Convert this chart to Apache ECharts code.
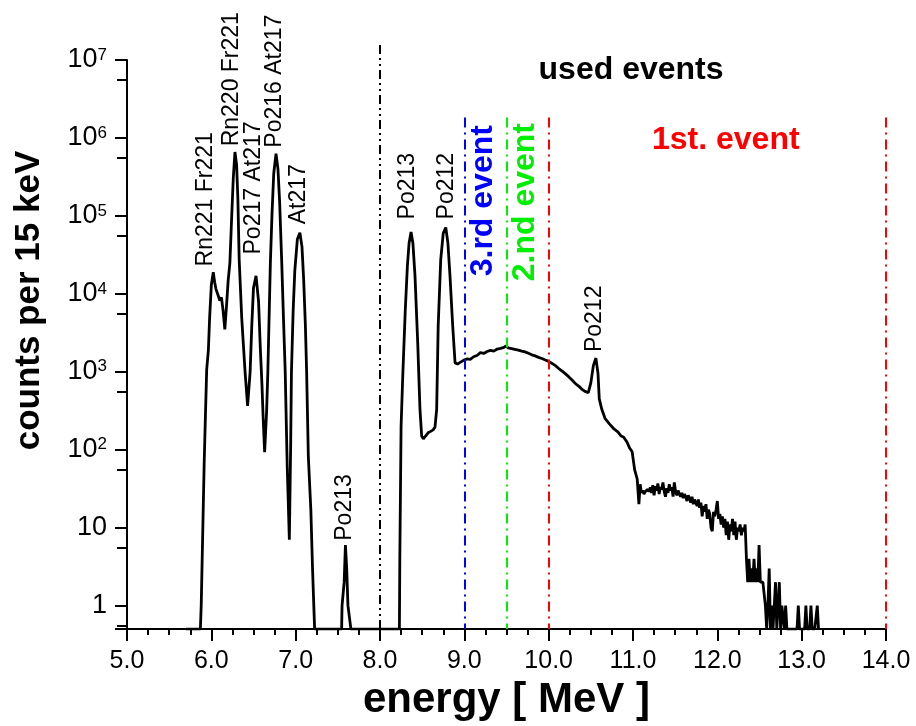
<!DOCTYPE html>
<html>
<head>
<meta charset="utf-8">
<script src="https://cdn.jsdelivr.net/npm/echarts@6/dist/echarts.min.js"></script>
<style>
  html, body { margin: 0; padding: 0; background: #fff; }
  #chart { width: 916px; height: 726px; }
</style>
</head>
<body>
<div id="chart"></div>
<script>
// alpha peaks (Rn221 ... At217, Po213, Po213/Po212), energy in MeV, counts per 15 keV
const peakEnergy = [
  5.70, 5.87, 5.88, 5.895, 5.90, 5.915, 5.93, 5.945, 5.965, 5.98, 6.00, 6.023, 6.04, 6.055, 6.083, 6.10, 6.12, 6.14, 6.16,
  6.18, 6.20, 6.22, 6.24, 6.26, 6.28, 6.30, 6.315, 6.33, 6.36, 6.40, 6.43,
  6.46, 6.48, 6.50, 6.53, 6.56, 6.58, 6.60, 6.615, 6.632,
  6.655, 6.67, 6.685, 6.70, 6.72, 6.74, 6.767, 6.79, 6.81, 6.835, 6.855, 6.876, 6.90, 6.925,
  6.94, 6.95, 6.97, 6.99, 7.02, 7.05, 7.075, 7.095, 7.115, 7.13, 7.15, 7.18, 7.20, 7.215, 7.225,
  7.545, 7.55, 7.565, 7.575, 7.59, 7.605, 7.62, 7.64, 7.655,
  8.23, 8.235, 8.25, 8.27, 8.30, 8.325, 8.345, 8.368, 8.39, 8.415, 8.447, 8.474, 8.494, 8.514, 8.54, 8.57, 8.60, 8.63, 8.652,
  8.672, 8.69, 8.72, 8.75, 8.78, 8.805, 8.83, 8.862, 8.89
];
const peakCounts = [
  0, 0, 1, 1, 11, 66, 275, 1070, 1900, 5000, 13000, 19000, 14000, 11500, 9400, 8200, 9000, 6000, 3500,
  7000, 15000, 25000, 90000, 300000, 660000, 450000, 160000, 28000, 5000, 1000, 365,
  1000, 4000, 12000, 17000, 8000, 2100, 700, 250, 93,
  300, 1000, 5000, 25000, 110000, 350000, 630000, 400000, 150000, 25000, 5000, 1000, 60, 7,
  100, 1000, 6000, 20000, 50000, 61000, 40000, 15000, 4000, 1000, 83, 17, 3, 1, 0,
  0, 1, 1, 2, 6, 3, 1, 1, 0,
  0, 4, 200, 890, 6300, 23000, 45000, 62000, 45000, 17000, 2400, 330, 150, 138, 150, 165, 172, 180, 195,
  330, 3900, 27500, 60000, 71000, 45000, 17000, 3900, 1300
];

// continuum of the used events and the Po212 line at 10.56 MeV
const contEnergy = [
  8.92, 8.95, 8.99, 9.03, 9.07, 9.11, 9.15, 9.19, 9.23, 9.27, 9.31, 9.35, 9.39, 9.43, 9.47, 9.494,
  9.52, 9.56, 9.60, 9.64, 9.68, 9.72, 9.76, 9.80, 9.84, 9.88, 9.92, 9.96, 10.00, 10.04, 10.08, 10.12,
  10.16, 10.20, 10.24, 10.28, 10.32, 10.36, 10.40, 10.43, 10.47, 10.50, 10.53, 10.56, 10.585, 10.60,
  10.63, 10.67, 10.72, 10.77, 10.82, 10.86, 10.89, 10.93, 10.96, 10.99, 11.02, 11.05
];
const contCounts = [
  1260, 1320, 1400, 1460, 1440, 1560, 1620, 1760, 1720, 1820, 1880, 1840, 1960, 2000, 2060, 2150,
  2020, 1980, 1940, 1900, 1840, 1800, 1730, 1650, 1600, 1530, 1480, 1420, 1360, 1280, 1200, 1100,
  1020, 940, 860, 780, 700, 650, 590, 560, 540, 720, 1200, 1500, 950, 450,
  330, 250, 215, 187, 170, 150, 145, 125, 105, 94, 55, 42
];

// high energy tail, one value per 15 keV bin starting at 11.07 MeV
const tailStart = 11.07;
const binWidth = 0.015;
const tailCounts = [
  20, 36, 28, 30, 27, 29, 28, 31, 29, 33, 28, 35, 26, 34, 30, 37, 27, 33, 31, 38,
  29, 25, 32, 28, 36, 30, 33, 25, 38, 29, 26, 30, 27, 25, 28, 24, 27, 25, 22, 26,
  24, 21, 25, 20, 23, 22, 19, 23, 18, 21, 14, 19, 16, 20, 13, 17, 15, 10, 9, 16,
  14, 17, 22, 13, 15, 11, 14, 10, 13, 8, 12, 7, 11, 9, 13, 8, 12, 7, 10, 9,
  11, 8, 10, 9, 11, 4, 2, 4, 2, 3, 2, 4, 2, 3, 2, 6, 2, 2, 2, 2,
  1, 0, 1, 3, 0, 1, 0, 1, 2, 0, 1, 2, 0, 1, 1, 0, 1, 0, 0, 0,
  0, 0, 0, 0, 0, 0, 1, 0, 0, 0, 0, 0, 1, 0, 0, 0, 1, 0, 0, 0,
  0, 1, 0
];

// vertical event boundaries (the 8 MeV cut reaches a little above the frame)
const cutEnergy = 8.0;
const cutTop = 1.56e7;
const markerEnergy = [9.0, 9.5, 10.0, 14.0];
const markerTop = [1.83e6, 1.83e6, 1.83e6, 1.83e6];
const markerColor = ['#0000ff', '#00ee00', '#ff0000', '#ff0000'];

// rotated peak / event labels (anchor = lower end of the text)
const peakLabelText = ['Rn221 Fr221', 'Rn220 Fr221', 'Po217 At217', 'Po216 At217', 'At217',
  'Po213', 'Po213', 'Po212', 'Po212'];
const peakLabelEnergy = [5.937, 6.245, 6.506, 6.755, 7.04, 7.585, 8.332, 8.795, 10.55];
const peakLabelCount = [2.25e4, 7.8e5, 3.2e4, 7.5e5, 7.8e4, 6.8, 9.0e4, 9.0e4, 1.79e3];

const eventLabelText = ['3.rd event', '2.nd event'];
const eventLabelEnergy = [9.221, 9.72];
const eventLabelCount = [1.68e4, 1.45e4];
const eventLabelColor = ['#0000ff', '#00ee00'];

const titleText = ['used events', '1st. event'];
const titleEnergy = [10.977, 12.10];
const titleCount = [7.5e6, 9.5e5];
const titleColor = ['#000000', '#ff0000'];

const X_MIN = 5, X_MAX = 14;
const Y_MIN = 0.5, Y_MAX = 1e7;
const FONT = '"Liberation Sans", Arial, sans-serif';

// empty bins sit on the bottom of the log axis
const spectrum = [];
peakEnergy.forEach((e, i) => spectrum.push([e, peakCounts[i] > 0 ? peakCounts[i] : Y_MIN]));
contEnergy.forEach((e, i) => spectrum.push([e, contCounts[i] > 0 ? contCounts[i] : Y_MIN]));
tailCounts.forEach((c, i) => {
  const e = +(tailStart + i * binWidth).toFixed(3);
  spectrum.push([e, c > 0 ? c : Y_MIN]);
});

// lower ends kept a hair above the axis minimum so no marker gets filtered out
const markLines = markerEnergy.map((e, i) => [
  {
    coord: [e, markerTop[i]],
    lineStyle: { color: markerColor[i], width: 2, type: [10, 5, 2, 5] }
  },
  { coord: [e, Y_MIN * 1.004] }
]);

const cutLine = [[
  { coord: [cutEnergy, cutTop * 0.998], lineStyle: { color: '#000', width: 2, type: [9, 4, 2, 4, 2, 4] } },
  { coord: [cutEnergy, Y_MIN * 1.004] }
]];

const rotatedLabels = peakLabelText.map((t, i) => ({
  value: [peakLabelEnergy[i], peakLabelCount[i]],
  name: t,
  label: { color: '#000', fontSize: 23, fontWeight: 'normal' }
})).concat(eventLabelText.map((t, i) => ({
  value: [eventLabelEnergy[i], eventLabelCount[i]],
  name: t,
  label: { color: eventLabelColor[i], fontSize: 32, fontWeight: 'bold' }
})));

const flatLabels = titleText.map((t, i) => ({
  value: [titleEnergy[i], titleCount[i]],
  name: t,
  label: { color: titleColor[i] }
}));

const chart = echarts.init(document.getElementById('chart'));

const axisColor = '#000';
const option = {
  backgroundColor: '#fff',
  animation: false,
  grid: [
    { left: 127, right: 30, top: 60, bottom: 95 },
    // same decade height as the main grid, only 15 px taller, for the 8 MeV cut line
    { left: 127, right: 30, top: 45, bottom: 95 }
  ],
  xAxis: [
    {
      type: 'value',
      min: X_MIN,
      max: X_MAX,
      interval: 1,
      name: 'energy [ MeV ]',
      nameLocation: 'middle',
      nameGap: 44,
      nameTextStyle: { fontFamily: FONT, fontSize: 42, fontWeight: 'bold', color: axisColor },
      axisLine: { show: true, onZero: false, lineStyle: { color: axisColor, width: 2 } },
      axisTick: { show: true, length: 12, lineStyle: { color: axisColor, width: 2 } },
      minorTick: { show: true, splitNumber: 4, length: 6, lineStyle: { color: axisColor, width: 2 } },
      splitLine: { show: false },
      axisLabel: {
        fontFamily: FONT, fontSize: 25, color: axisColor, margin: 20,
        formatter: v => v.toFixed(1)
      }
    },
    { type: 'value', gridIndex: 1, min: X_MIN, max: X_MAX, show: false }
  ],
  yAxis: [
    {
      type: 'log',
      logBase: 10,
      min: Y_MIN,
      max: Y_MAX,
      splitNumber: 8,
      name: 'counts per 15 keV',
      nameLocation: 'middle',
      nameGap: 80,
      nameTextStyle: { fontFamily: FONT, fontSize: 35, fontWeight: 'bold', color: axisColor, padding: [0, 0, 0, 88] },
      axisLine: { show: true, onZero: false, lineStyle: { color: axisColor, width: 2 } },
      axisTick: { show: true, length: 12, lineStyle: { color: axisColor, width: 2 } },
      minorTick: { show: true, splitNumber: 2, length: 10, lineStyle: { color: axisColor, width: 2 } },
      splitLine: { show: false },
      axisLabel: {
        fontFamily: FONT, fontSize: 27, color: axisColor, margin: 20,
        formatter: v => {
          if (v < 0.9) return '';
          const p = Math.round(Math.log10(v));
          if (p === 0) return '1';
          if (p === 1) return '10';
          return '10{s|' + p + '}';
        },
        rich: {
          s: { fontFamily: FONT, fontSize: 17, color: axisColor, verticalAlign: 'top' }
        }
      }
    },
    { type: 'log', logBase: 10, gridIndex: 1, min: Y_MIN, max: cutTop, show: false }
  ],
  series: [
    {
      name: 'spectrum',
      type: 'line',
      data: spectrum,
      showSymbol: false,
      symbol: 'none',
      clip: true,
      lineStyle: { color: '#000', width: 2.8 },
      markLine: {
        silent: true,
        symbol: 'none',
        label: { show: false },
        data: markLines
      },
      z: 3
    },
    {
      name: 'cut',
      type: 'line',
      xAxisIndex: 1,
      yAxisIndex: 1,
      data: [],
      markLine: {
        silent: true,
        symbol: 'none',
        label: { show: false },
        data: cutLine
      },
      z: 2
    },
    {
      name: 'peak labels',
      type: 'scatter',
      data: rotatedLabels,
      symbolSize: 0,
      silent: true,
      itemStyle: { opacity: 1 },
      label: {
        show: true,
        position: 'inside',
        rotate: 90,
        align: 'left',
        verticalAlign: 'middle',
        fontFamily: FONT,
        formatter: p => p.name
      },
      z: 5
    },
    {
      name: 'titles',
      type: 'scatter',
      data: flatLabels,
      symbolSize: 0,
      silent: true,
      itemStyle: { opacity: 1 },
      label: {
        show: true,
        position: 'inside',
        align: 'center',
        verticalAlign: 'middle',
        fontFamily: FONT,
        fontSize: 32,
        fontWeight: 'bold',
        formatter: p => p.name
      },
      z: 5
    }
  ]
};

chart.setOption(option);
</script>
</body>
</html>
